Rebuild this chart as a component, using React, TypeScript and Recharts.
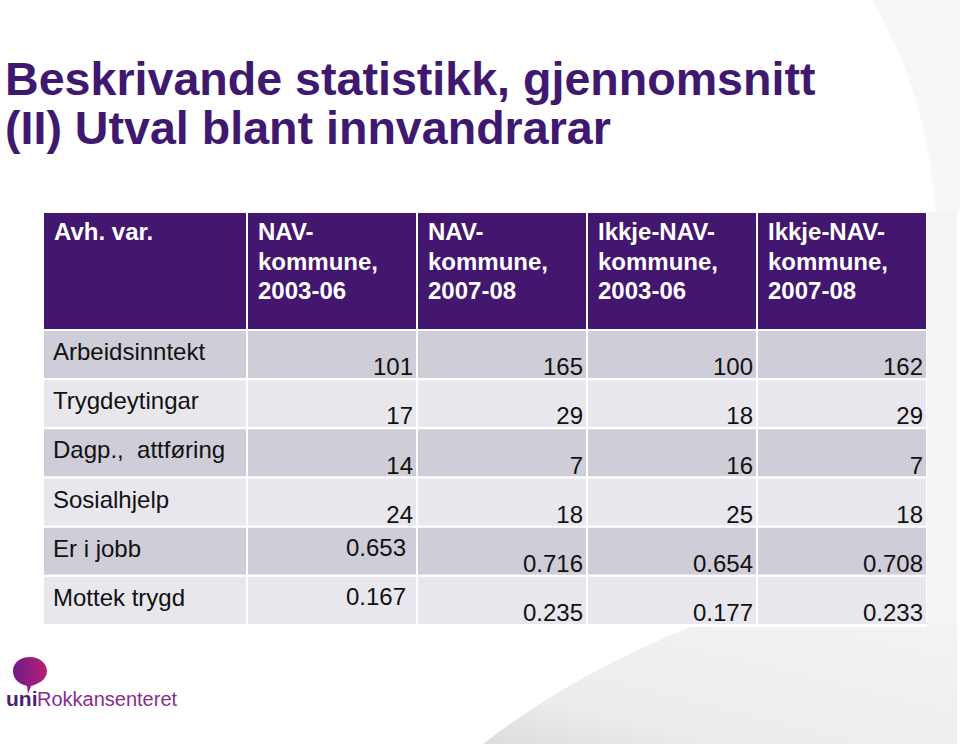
import React from 'react';
import { ScatterChart, Scatter, XAxis, YAxis, ReferenceArea } from 'recharts';

// header cells, one entry per column (lines as they wrap on the slide)
const headerLines = [
  ['Avh. var.'],
  ['NAV-', 'kommune,', '2003-06'],
  ['NAV-', 'kommune,', '2007-08'],
  ['Ikkje-NAV-', 'kommune,', '2003-06'],
  ['Ikkje-NAV-', 'kommune,', '2007-08'],
];

const rowLabels = ['Arbeidsinntekt', 'Trygdeytingar', 'Dagp.,  attføring', 'Sosialhjelp', 'Er i jobb', 'Mottek trygd'];

const nav0306 = [101, 17, 14, 24, 0.653, 0.167];
const nav0708 = [165, 29, 7, 18, 0.716, 0.235];
const ikkje0306 = [100, 18, 16, 25, 0.654, 0.177];
const ikkje0708 = [162, 29, 7, 18, 0.708, 0.233];

const series = [nav0306, nav0708, ikkje0306, ikkje0708];

const FONT = '"Liberation Sans", Arial, Helvetica, sans-serif';
const PURPLE = '#43176f';
const TITLE = '#3f1870';
const ROW_DARK = '#cfcdd7';
const ROW_LIGHT = '#e8e7ed';

const W = 884;
const H = 413;
const HEAD = 2.4; // header height in row units
const FIRST = 1.2; // label column width in column units

const colStart = (c: number) => (c === 0 ? 0 : FIRST + (c - 1));
const colEnd = (c: number) => (c === 0 ? FIRST : colStart(c) + 1);
const rowTop = (r: number) => HEAD + r;

const fmt = (v: number) => (Number.isInteger(v) ? String(v) : v.toFixed(3));

const headerPoints = headerLines.map((lines, c) => ({ x: colStart(c), y: 0, lines }));
const labelPoints = rowLabels.map((label, r) => ({ x: 0, y: rowTop(r), label }));
// shares in the first data column sit up at label height on the slide
const valuePoints = series.flatMap((vals, s) =>
  vals.map((v, r) => {
    const raised = s === 0 && r >= 4;
    return { x: colEnd(s + 1), y: raised ? rowTop(r) : rowTop(r) + 1, text: fmt(v), raised };
  })
);

const HeaderText = (props: any) => {
  const { cx, cy, payload } = props;
  return (
    <text x={cx + 11} y={cy + 28} fill="#fff" fontFamily={FONT} fontSize={24} fontWeight="bold">
      {payload.lines.map((l: string, i: number) => (
        <tspan key={i} x={cx + 11} dy={i === 0 ? 0 : 29.5}>
          {l}
        </tspan>
      ))}
    </text>
  );
};

const LabelText = (props: any) => {
  const { cx, cy, payload } = props;
  return (
    <text x={cx + 10} y={cy + 30} fill="#111" fontFamily={FONT} fontSize={24} style={{ whiteSpace: 'pre' }}>
      {payload.label}
    </text>
  );
};

const ValueText = (props: any) => {
  const { cx, cy, payload } = props;
  return (
    <text
      x={payload.raised ? cx - 11 : cx - 4}
      y={payload.raised ? cy + 29 : cy - 4}
      fill="#111"
      fontFamily={FONT}
      fontSize={24}
      textAnchor="end"
    >
      {payload.text}
    </text>
  );
};

const Table = () => (
  <ScatterChart width={W} height={H} margin={{ top: 0, right: 0, bottom: 0, left: 0 }}>
    <XAxis type="number" dataKey="x" domain={[0, FIRST + 4]} hide />
    <YAxis type="number" dataKey="y" domain={[0, HEAD + rowLabels.length]} reversed hide />
    {headerLines.map((_, c) => (
      <ReferenceArea
        key={`h-${c}`}
        x1={colStart(c)}
        x2={colEnd(c)}
        y1={0}
        y2={HEAD}
        fill={PURPLE}
        fillOpacity={1}
        stroke="#fff"
        strokeWidth={2}
      />
    ))}
    {rowLabels.map((_, r) =>
      headerLines.map((__, c) => (
        <ReferenceArea
          key={`c-${r}-${c}`}
          x1={colStart(c)}
          x2={colEnd(c)}
          y1={rowTop(r)}
          y2={rowTop(r) + 1}
          fill={r % 2 === 0 ? ROW_DARK : ROW_LIGHT}
          fillOpacity={1}
          stroke="#fff"
          strokeWidth={2}
        />
      ))
    )}
    <Scatter data={headerPoints} shape={HeaderText} isAnimationActive={false} />
    <Scatter data={labelPoints} shape={LabelText} isAnimationActive={false} />
    <Scatter data={valuePoints} shape={ValueText} isAnimationActive={false} />
  </ScatterChart>
);

export default function App() {
  return (
    <div style={{ position: 'absolute', left: 0, top: 0, width: 960, height: 746, background: '#fff', overflow: 'hidden' }}>
      <svg width={960} height={746} style={{ position: 'absolute', left: 0, top: 0 }}>
        <defs>
          <linearGradient id="curl" x1="0" y1="1" x2="1" y2="0">
            <stop offset="0" stopColor="#dcdcdc" />
            <stop offset="0.25" stopColor="#ececec" />
            <stop offset="1" stopColor="#f3f3f3" />
          </linearGradient>
          <linearGradient id="balloon" x1="0" y1="0" x2="1" y2="0">
            <stop offset="0" stopColor="#6d1b86" />
            <stop offset="1" stopColor="#b8207a" />
          </linearGradient>
        </defs>
        <path d="M 872 0 Q 926 90 936 212 L 960 212 L 960 0 Z" fill="#f7f7f7" />
        <rect x={927} y={212} width={30} height={532} fill="#f4f4f4" />
        <path d="M 483 744 Q 570 676 690 627 L 957 627 L 957 744 Z" fill="url(#curl)" />
        <text fontFamily={FONT} fontWeight="bold" fontSize={46.6} fill={TITLE}>
          <tspan x={5} y={95}>Beskrivande statistikk, gjennomsnitt</tspan>
          <tspan x={5} y={144}>(II) Utval blant innvandrarar</tspan>
        </text>
        <path
          d="M 30 657 C 40 657 47 664 47 671 C 47 680 38 684 31 686 L 28 694 L 27 686 C 19 684 13 679 13 671 C 13 663 20 657 30 657 Z"
          fill="url(#balloon)"
        />
        <text x={6} y={706} fontFamily={FONT} fontSize={21} fontWeight="bold" fill="#4b1f72">
          uni
        </text>
        <text x={37} y={706} fontFamily={FONT} fontSize={20} fill="#8a2b8c">
          Rokkansenteret
        </text>
      </svg>
      <div style={{ position: 'absolute', left: 43, top: 212 }}>
        <Table />
      </div>
    </div>
  );
}
